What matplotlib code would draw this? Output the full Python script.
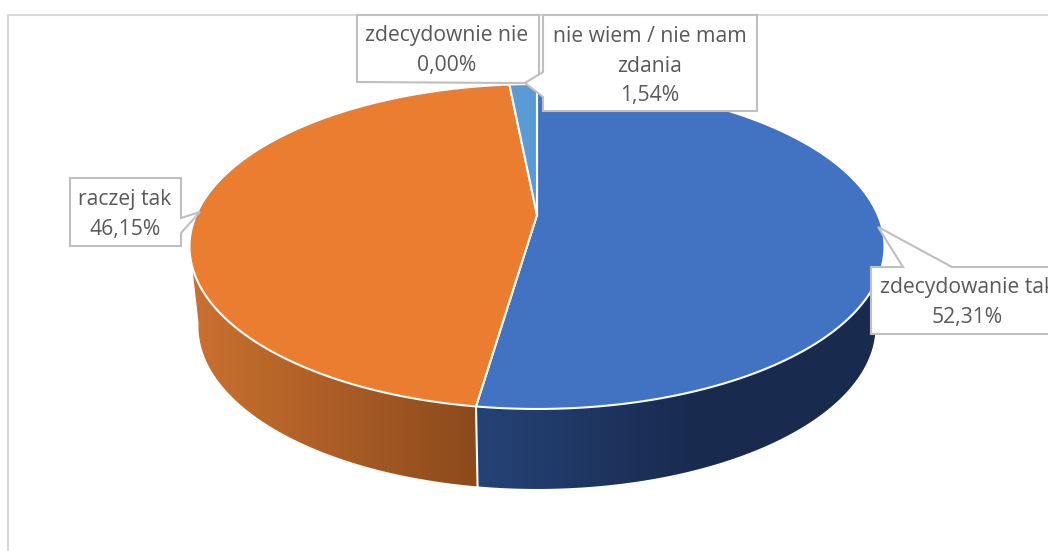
import matplotlib
matplotlib.use("Agg")
import matplotlib.pyplot as plt
from matplotlib.patches import Polygon
import numpy as np

plt.rcParams['font.family'] = ['Open Sans', 'DejaVu Sans']

categories = ["zdecydowanie tak", "raczej tak", "nie wiem / nie mam\nzdania", "zdecydownie nie"]
values = [52.31, 46.15, 1.54, 0.00]
value_labels = ["52,31%", "46,15%", "1,54%", "0,00%"]
colors = ["#4272C2", "#EB7D30", "#5B9BD5", "#A5A5A5"]

# side wall gradient, left colour then right colour, by pixel x
wall_stops = {0: ((37, 66, 118), (24, 42, 78), 478, 700),
              1: ((203, 113, 48), (139, 74, 28), 190, 477)}
wall_limit = np.radians([100, 260])


def project(theta, cx=537, cy=215, k=340.9, a=114.7, c=-0.1938, dy=0):
    # circle seen in perspective, theta clockwise from the top
    u = np.sin(theta)
    v = -np.cos(theta)
    d = 1 + c * v
    return cx + k * u / d, (a * v + cy) / d + dy


def bottom(theta):
    return project(theta, k=332.1, dy=80)


fig = plt.figure(figsize=(10.48, 5.51), dpi=100)
ax = fig.add_axes([0, 0, 1, 1])

# chart frame
ax.plot([8, 8, 1048], [551, 15, 15], color="#D9D9D9", lw=1.5, zorder=1)

edges = np.cumsum([0] + values) / sum(values) * 2 * np.pi

# side walls, a horizontal gradient clipped to each wall outline
for i in wall_stops:
    c0, c1, x0, x1 = wall_stops[i]
    th = np.linspace(max(edges[i], wall_limit[0]), min(edges[i + 1], wall_limit[1]), 200)
    xa, ya = project(th)
    xb, yb = bottom(th[::-1])
    wall = Polygon(np.column_stack([np.r_[xa, xb], np.r_[ya, yb]]), facecolor="none",
                   edgecolor="none", transform=ax.transData)
    ax.add_patch(wall)
    f = np.clip((np.arange(1048) - x0) / (x1 - x0), 0, 1)[None, :, None]
    grad = (np.array(c0) + (np.array(c1) - np.array(c0)) * f) / 255
    im = ax.imshow(grad, extent=(0, 1048, 551, 0), aspect='auto', zorder=2)
    im.set_clip_path(wall)

ax.set_xlim(0, 1048)
ax.set_ylim(551, 0)
ax.axis('off')

# seam between the two walls at the front
sx, sy = project(edges[1])
bx, by = bottom(edges[1])
ax.plot([sx, bx], [sy, by], color="white", lw=1.5, zorder=3)

# top face
for i in range(len(values)):
    if values[i] == 0:
        continue
    th = np.linspace(edges[i], edges[i + 1], 200)
    x, y = project(th)
    ax.add_patch(Polygon(np.column_stack([np.r_[537, x], np.r_[215, y]]),
                         facecolor=colors[i], edgecolor="white", lw=1.5,
                         joinstyle='round', zorder=4))

# callouts: outline in pixels, then text lines
box_edge = "#BFBFBF"
callouts = [
    ([(357, 15), (539, 15), (539, 82), (525, 83), (510, 83), (357, 82)], 3, 447, [36, 66]),
    ([(543, 15), (757, 15), (757, 111), (543, 111), (543, 97), (525, 83), (543, 72)], 2, 650, [36, 66, 95]),
    ([(70, 178), (181, 178), (181, 218), (200, 212), (181, 233), (181, 246), (70, 246)], 1, 125, [200, 229]),
    ([(871, 267), (903, 267), (878, 227), (952, 267), (1060, 267), (1060, 334), (871, 334)], 0, 967, [288, 317]),
]
for outline, idx, tx, ys in callouts:
    ax.add_patch(Polygon(outline, closed=True, facecolor="white", edgecolor=box_edge,
                         lw=1.5, zorder=5))
    lines = categories[idx].split("\n") + [value_labels[idx]]
    for line, ty in zip(lines, ys):
        ax.text(tx, ty, line, ha='center', va='center', fontsize=15.2, color="#595959",
                zorder=6, clip_on=True)

fig.savefig("out.png", dpi=100)
